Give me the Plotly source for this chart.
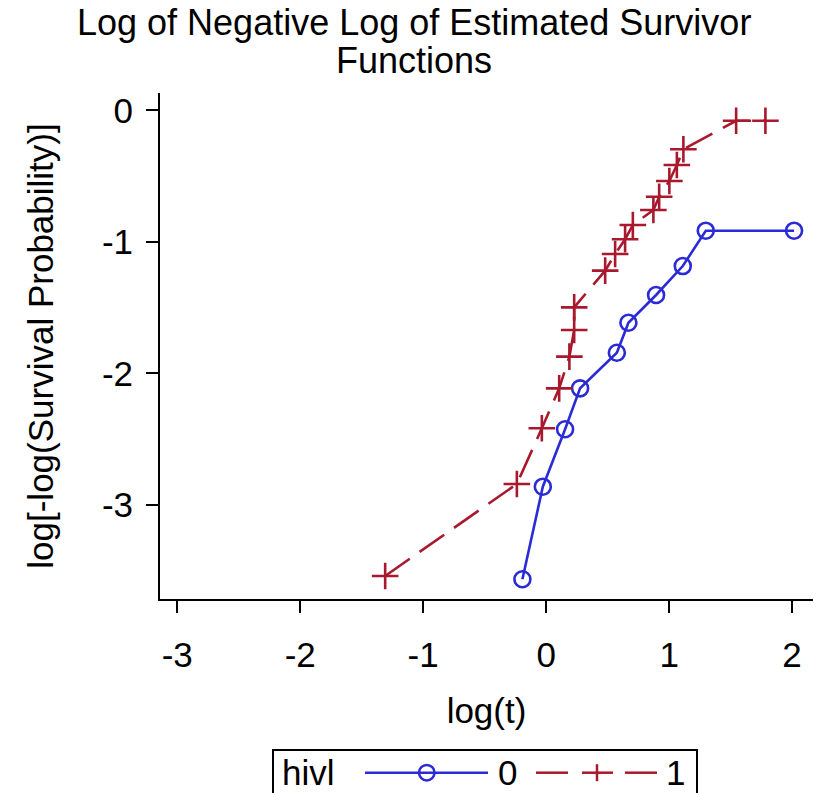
import plotly.graph_objects as go

# hivl = 0
x0 = [-0.193, -0.027, 0.154, 0.276, 0.575, 0.669, 0.894, 1.111, 1.298, 2.016]
y0 = [-3.565, -2.861, -2.424, -2.113, -1.842, -1.614, -1.403, -1.183, -0.914, -0.914]

# hivl = 1
x1 = [-1.309, -0.238, -0.035, 0.106, 0.189, 0.228, 0.228, 0.480, 0.561, 0.642,
      0.705, 0.872, 0.919, 1.002, 1.063, 1.116, 1.545, 1.783]
y1 = [-3.540, -2.840, -2.417, -2.113, -1.872, -1.669, -1.497, -1.218, -1.091, -0.979,
      -0.871, -0.757, -0.656, -0.536, -0.414, -0.295, -0.078, -0.078]

xticks = [-3, -2, -1, 0, 1, 2]
yticks = [0, -1, -2, -3]

title_lines = ["Log of Negative Log of Estimated Survivor", "Functions"]
legend_title = "hivl"
group_labels = ["0", "1"]

BLUE = "#2B2BD6"
RED = "#A8192E"
FONT = "Liberation Sans"
FS = 35

W, H = 826, 793
L, R, T, B = 160, 13, 93, 194
PW, PH = W - L - R, H - T - B


def px(xp):
    return (xp - L) / PW


def py(yp):
    return (H - B - yp) / PH


fig = go.Figure()
fig.add_trace(go.Scatter(
    x=x0, y=y0, name=group_labels[0], mode="lines+markers",
    line=dict(color=BLUE, width=2.6),
    marker=dict(symbol="circle-open", size=16, color=BLUE, line=dict(width=2.6)),
    cliponaxis=False,
))
fig.add_trace(go.Scatter(
    x=x1, y=y1, name=group_labels[1], mode="lines+markers",
    line=dict(color=RED, width=2.6, dash="30px,12px"),
    marker=dict(symbol="cross-thin-open", size=19, color=RED, line=dict(width=2.6, color=RED)),
    cliponaxis=False,
))

annotations = [
    dict(text=title_lines[0], x=px(414), xref="paper", xanchor="center",
         y=py(23), yref="paper", yanchor="middle", showarrow=False,
         font=dict(family=FONT, size=FS + 1, color="black")),
    dict(text=title_lines[1], x=px(414), xref="paper", xanchor="center",
         y=py(61), yref="paper", yanchor="middle", showarrow=False,
         font=dict(family=FONT, size=FS + 1, color="black")),
]
# legend built by hand (SAS-style long sample lines)
leg_y = 772.7
annotations += [
    dict(text=legend_title, x=px(280), xref="paper", xanchor="left",
         y=py(772.5), yref="paper", yanchor="middle", showarrow=False,
         font=dict(family=FONT, size=FS, color="black")),
    dict(text=group_labels[0], x=px(496), xref="paper", xanchor="left",
         y=py(772.5), yref="paper", yanchor="middle", showarrow=False,
         font=dict(family=FONT, size=FS, color="black")),
    dict(text=group_labels[1], x=px(664), xref="paper", xanchor="left",
         y=py(772.5), yref="paper", yanchor="middle", showarrow=False,
         font=dict(family=FONT, size=FS, color="black")),
]

shapes = [
    dict(type="rect", xref="paper", yref="paper", x0=px(273), x1=px(697),
         y0=py(750), y1=py(830), line=dict(color="black", width=2), fillcolor="rgba(0,0,0,0)"),
    dict(type="line", xref="paper", yref="paper", x0=px(365), x1=px(488),
         y0=py(leg_y), y1=py(leg_y), line=dict(color=BLUE, width=2.5)),
    dict(type="circle", xref="paper", yref="paper", x0=px(419), x1=px(434.5),
         y0=py(leg_y + 7.75), y1=py(leg_y - 7.75), line=dict(color=BLUE, width=2.5)),
    dict(type="line", xref="paper", yref="paper", x0=px(536), x1=px(568),
         y0=py(leg_y), y1=py(leg_y), line=dict(color=RED, width=2.5)),
    dict(type="line", xref="paper", yref="paper", x0=px(582), x1=px(613),
         y0=py(leg_y), y1=py(leg_y), line=dict(color=RED, width=2.5)),
    dict(type="line", xref="paper", yref="paper", x0=px(597), x1=px(597),
         y0=py(leg_y - 8.5), y1=py(leg_y + 8.5), line=dict(color=RED, width=2.5)),
    dict(type="line", xref="paper", yref="paper", x0=px(625), x1=px(657),
         y0=py(leg_y), y1=py(leg_y), line=dict(color=RED, width=2.5)),
]

fig.update_layout(
    width=W, height=H,
    margin=dict(l=L, r=R, t=T, b=B, autoexpand=False),
    paper_bgcolor="white", plot_bgcolor="white",
    font=dict(family=FONT, size=FS, color="black"),
    showlegend=False,
    annotations=annotations,
    shapes=shapes,
)
fig.update_xaxes(
    range=[-3.14, 2.17], tickvals=xticks, ticktext=[str(v) for v in xticks],
    showgrid=False, zeroline=False, showline=True, linecolor="black", linewidth=2,
    ticks="outside", ticklen=12, tickwidth=2, tickcolor="black",
    title=dict(text="log(t)", standoff=25, font=dict(size=FS)),
    tickfont=dict(size=FS), automargin=False, ticklabelstandoff=12,
)
fig.update_yaxes(
    range=[-3.715, 0.133], tickvals=yticks, ticktext=[str(v) for v in yticks],
    showgrid=False, zeroline=False, showline=True, linecolor="black", linewidth=2,
    ticks="outside", ticklen=12, tickwidth=2, tickcolor="black",
    title=dict(text="log[-log(Survival Probability)]", standoff=38, font=dict(size=FS)),
    tickfont=dict(size=FS), automargin=False, ticklabelstandoff=6,
)

fig.write_html("out.html")
